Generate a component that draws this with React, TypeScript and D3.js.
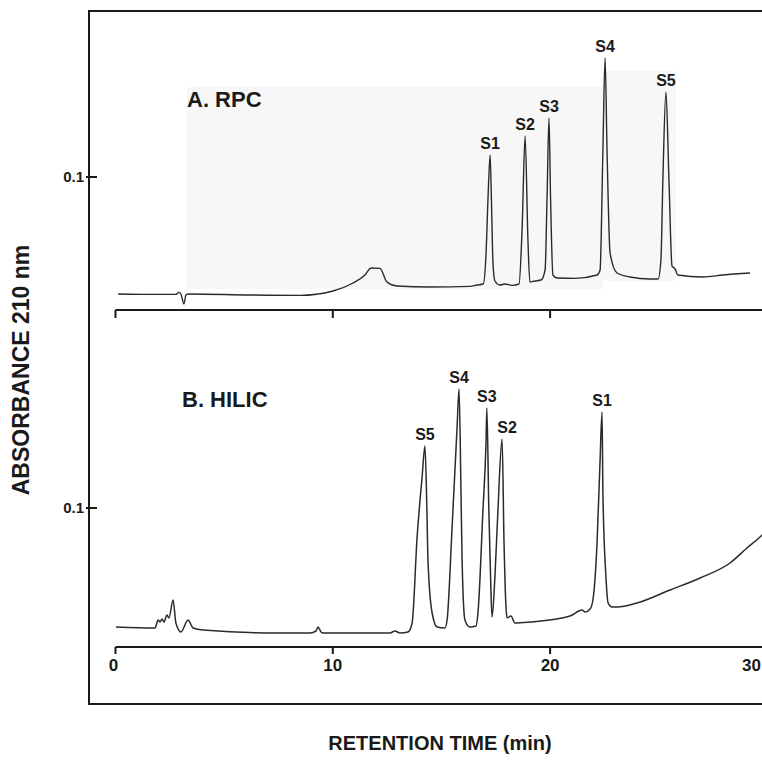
import React from 'react';
import * as d3 from 'd3';

// retention time (min), absorbance at 210 nm
const rpcTrace: [number, number][] = [
  [0.12, 0.0415], [1.59, 0.0413], [2.78, 0.0413], [2.92, 0.0423], [3.01, 0.0415], [3.15, 0.0365],
  [3.24, 0.041], [3.34, 0.0415], [6.19, 0.041], [8.49, 0.0408], [10.01, 0.043], [10.93, 0.047],
  [11.48, 0.051], [11.76, 0.0545], [12.17, 0.0543], [12.49, 0.0475], [12.95, 0.0455], [14.47, 0.045],
  [16.31, 0.0453], [16.64, 0.046], [16.92, 0.0465], [17.05, 0.061], [17.14, 0.0885], [17.24, 0.111],
  [17.3, 0.0885], [17.37, 0.0575], [17.46, 0.048], [17.69, 0.046], [17.92, 0.0465], [18.25, 0.0458],
  [18.57, 0.0465], [18.71, 0.0735], [18.85, 0.1205], [18.98, 0.0685], [19.07, 0.0475], [19.3, 0.048],
  [19.58, 0.0485], [19.77, 0.0535], [19.86, 0.09], [19.95, 0.1295], [20.02, 0.09], [20.13, 0.051],
  [20.32, 0.0495], [21.15, 0.0493], [22.16, 0.051], [22.3, 0.0535], [22.43, 0.1135], [22.53, 0.1595],
  [22.62, 0.1135], [22.76, 0.062], [23.08, 0.052], [23.68, 0.05], [24.6, 0.049], [24.97, 0.049],
  [25.1, 0.0585], [25.19, 0.0985], [25.33, 0.1425], [25.47, 0.0985], [25.61, 0.0555], [25.75, 0.054],
  [25.88, 0.051], [27.04, 0.05], [27.96, 0.051], [29.2, 0.052],
];

const hilicTrace: [number, number][] = [
  [0.02, 0.0405], [1.82, 0.04], [1.96, 0.044], [2.05, 0.043], [2.14, 0.0445], [2.23, 0.043],
  [2.37, 0.0465], [2.46, 0.045], [2.65, 0.054], [2.78, 0.0425], [3.01, 0.038], [3.34, 0.044],
  [3.57, 0.04], [4.03, 0.039], [7.43, 0.0375], [8.95, 0.0375], [9.23, 0.0385], [9.32, 0.0405],
  [9.46, 0.038], [9.55, 0.0375], [12.63, 0.0375], [12.86, 0.0385], [13.09, 0.0375], [13.46, 0.038],
  [13.65, 0.0425], [13.88, 0.0855], [14.11, 0.1155], [14.24, 0.131], [14.33, 0.099], [14.38, 0.074],
  [14.57, 0.0475], [14.8, 0.0405], [15.16, 0.04], [15.26, 0.044], [15.49, 0.0905], [15.72, 0.1405],
  [15.81, 0.1595], [15.9, 0.1075], [15.95, 0.074], [16.08, 0.044], [16.31, 0.0405], [16.59, 0.041],
  [16.68, 0.0475], [16.91, 0.099], [17.05, 0.1325], [17.09, 0.15], [17.18, 0.099], [17.28, 0.0575],
  [17.33, 0.0455], [17.46, 0.0655], [17.6, 0.099], [17.79, 0.1345], [17.88, 0.0825], [17.97, 0.0505],
  [18.02, 0.045], [18.2, 0.046], [18.38, 0.0425], [19.08, 0.043], [20.92, 0.046], [21.47, 0.049],
  [21.61, 0.048], [21.84, 0.0495], [21.97, 0.054], [22.16, 0.0825], [22.3, 0.124], [22.39, 0.148],
  [22.43, 0.1075], [22.57, 0.0655], [22.67, 0.0525], [22.85, 0.0505], [23.08, 0.0505], [24.0, 0.0525],
  [25.52, 0.059], [26.9, 0.065], [28.28, 0.0725], [29.06, 0.08], [29.66, 0.0855], [29.89, 0.088],
];

// peak labels: name, time of apex, absorbance of apex
const rpcPeaks: [string, number, number][] = [
  ['S1', 17.24, 0.111], ['S2', 18.85, 0.1205], ['S3', 19.95, 0.1295], ['S4', 22.53, 0.1595], ['S5', 25.33, 0.1425],
];
const hilicPeaks: [string, number, number][] = [
  ['S5', 14.24, 0.131], ['S4', 15.81, 0.1595], ['S3', 17.09, 0.15], ['S2', 17.79, 0.1345], ['S1', 22.39, 0.148],
];

const timeTicks = [0, 10, 20, 30];
const absTicks = [0.1];

const W = 762;
const H = 777;
const font = '"Liberation Sans", Arial, Helvetica, sans-serif';
const ink = '#1a1a1a';

const x = d3.scaleLinear().domain([0, 30]).range([115.5, 767.4]);
// same absorbance per pixel in both panels
const yTop = d3.scaleLinear().domain([0, 0.2]).range([377, -23]);
const yBot = d3.scaleLinear().domain([0, 0.2]).range([708, 308]);

const App: React.FC = () => {
  const lineTop = d3.line<[number, number]>().x(d => x(d[0])).y(d => yTop(d[1])).curve(d3.curveMonotoneX);
  const lineBot = d3.line<[number, number]>().x(d => x(d[0])).y(d => yBot(d[1])).curve(d3.curveMonotoneX);

  const frameLeft = 89;
  const frameTop = 11;
  const frameBottom = 704;
  const axisTopY = 310;
  const axisBotY = 647;

  return (
    <svg width={W} height={H} style={{ position: 'absolute', left: 0, top: 0, background: '#fff' }}>
      {/* faint paste-up shading behind panel A */}
      <rect x={187} y={87} width={416} height={202} fill="#f7f7f7" />
      <rect x={603} y={71} width={73} height={210} fill="#f7f7f7" />

      {/* frame */}
      <path
        d={`M${W + 5},${frameTop} L${frameLeft},${frameTop} L${frameLeft},${frameBottom} L${W + 5},${frameBottom}`}
        fill="none" stroke={ink} strokeWidth={2}
      />

      {/* y ticks */}
      {absTicks.map(t => (
        <g key={'yt' + t}>
          <line x1={86} x2={97} y1={yTop(t)} y2={yTop(t)} stroke={ink} strokeWidth={2} />
          <text x={84} y={yTop(t) + 5} textAnchor="end" fontFamily={font} fontWeight="bold" fontSize={15} fill={ink}>{t}</text>
          <line x1={86} x2={97} y1={yBot(t)} y2={yBot(t)} stroke={ink} strokeWidth={2} />
          <text x={84} y={yBot(t) + 5} textAnchor="end" fontFamily={font} fontWeight="bold" fontSize={15} fill={ink}>{t}</text>
        </g>
      ))}

      {/* x axes */}
      <line x1={x(0)} x2={x(30)} y1={axisTopY} y2={axisTopY} stroke={ink} strokeWidth={2} />
      {timeTicks.map(t => (
        <line key={'tt' + t} x1={x(t)} x2={x(t)} y1={axisTopY} y2={axisTopY + 8} stroke={ink} strokeWidth={2} />
      ))}
      <line x1={x(0)} x2={x(30)} y1={axisBotY} y2={axisBotY} stroke={ink} strokeWidth={2} />
      {timeTicks.map(t => (
        <g key={'bt' + t}>
          <line x1={x(t)} x2={x(t)} y1={axisBotY} y2={axisBotY + 7} stroke={ink} strokeWidth={2} />
          <text
            x={t === 0 ? x(t) - 2 : t === 30 ? W - 1 : x(t)}
            y={axisBotY + 24}
            textAnchor={t === 30 ? 'end' : 'middle'}
            fontFamily={font} fontWeight="bold" fontSize={17} fill={ink}
          >{t}</text>
        </g>
      ))}

      {/* traces */}
      <path d={lineTop(rpcTrace) ?? ''} fill="none" stroke="#2a2a2a" strokeWidth={1.4} strokeLinejoin="round" />
      <path d={lineBot(hilicTrace) ?? ''} fill="none" stroke="#2a2a2a" strokeWidth={1.5} strokeLinejoin="round" />

      {/* peak labels */}
      {rpcPeaks.map(([n, t, v]) => (
        <text key={'rp' + n} x={x(t)} y={yTop(v) - 6} textAnchor="middle" fontFamily={font} fontWeight="bold" fontSize={16} fill={ink}>{n}</text>
      ))}
      {hilicPeaks.map(([n, t, v]) => (
        <text key={'hp' + n} x={x(t) + (n === 'S2' ? 5 : 0)} y={yBot(v) - 6} textAnchor="middle" fontFamily={font} fontWeight="bold" fontSize={16} fill={ink}>{n}</text>
      ))}

      {/* panel titles */}
      <text x={187} y={107} fontFamily={font} fontWeight="bold" fontSize={22} fill={ink}>A. RPC</text>
      <text x={182} y={407} fontFamily={font} fontWeight="bold" fontSize={22} fill={ink}>B. HILIC</text>

      {/* axis titles */}
      <text
        transform="translate(29,370) rotate(-90)" textAnchor="middle"
        fontFamily={font} fontWeight="bold" fontSize={23} fill={ink}
      >ABSORBANCE 210 nm</text>
      <text x={440} y={750} textAnchor="middle" fontFamily={font} fontWeight="bold" fontSize={20} fill={ink}>RETENTION TIME (min)</text>
    </svg>
  );
};

export default App;
